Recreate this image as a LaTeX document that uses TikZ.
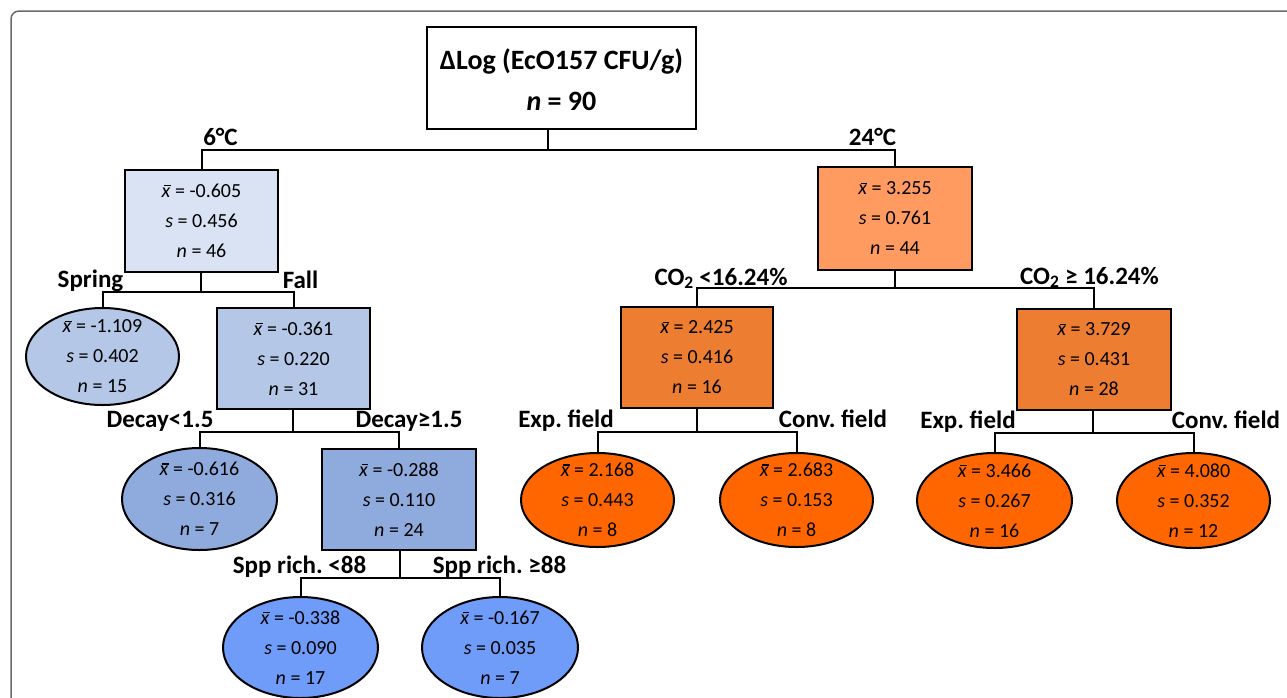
\documentclass[tikz,border=0pt]{standalone}
\usepackage{fontspec}
\setmainfont{Carlito}
\usetikzlibrary{shapes.geometric}
\frenchspacing
\definecolor{cA}{HTML}{DAE3F3}
\definecolor{cB}{HTML}{B4C7E7}
\definecolor{cC}{HTML}{8FAADC}
\definecolor{cD}{HTML}{6E9CF8}
\definecolor{cE}{HTML}{FF9A60}
\definecolor{cF}{HTML}{ED7D31}
\definecolor{cG}{HTML}{FF6600}
\definecolor{frame}{HTML}{6A6A6A}
\newcommand{\xbarit}{\textit{x}\llap{\raisebox{0.56em}{\rule{0.32em}{0.055em}}\hspace{0.0em}}}
\newcommand{\stats}[3]{\xbarit{} = #1\\\textit{s} = #2\\\textit{n} = #3}
\tikzset{
  box/.style={draw=black, line width=2pt, rectangle, inner sep=0pt},
  oval/.style={draw=black, line width=2pt, ellipse, inner sep=0pt},
  stat/.style={align=center, inner sep=0pt, font=\fontsize{20}{30}\selectfont},
  lbl/.style={anchor=base, inner sep=0pt, font=\fontsize{25}{30}\selectfont\bfseries},
  conn/.style={draw=black, line width=2pt},
}
\begin{document}
\begin{tikzpicture}[x=1pt,y=-1pt]
\useasboundingbox (0,0) rectangle (1287,697);
\clip (0,0) rectangle (1287,697);
\draw[frame, line width=1.5pt, rounded corners=8pt] (11,11) rectangle (1310,720);

% root
\node[box, minimum width=269pt, minimum height=102pt] (root) at (561.5,78) {};
\node[align=center, inner sep=0pt, font=\fontsize{28}{41}\selectfont\bfseries] (roott) at (561.5,80) {ΔLog (EcO157 CFU/g)\\\textit{n} = 90};

% left branch
\node[box, fill=cA, minimum width=153pt, minimum height=102pt] (A) at (201.5,221) {};
\node[stat] (At) at (A) {\stats{-0.605}{0.456}{46}};
\node[oval, fill=cB, minimum width=153pt, minimum height=97pt] (B) at (102.5,356.5) {};
\node[stat] (Bt) at (B) {\stats{-1.109}{0.402}{15}};
\node[box, fill=cB, minimum width=153pt, minimum height=101pt] (C) at (293.5,358.5) {};
\node[stat] (Ct) at (C) {\stats{-0.361}{0.220}{31}};
\node[oval, fill=cC, minimum width=155pt, minimum height=102pt] (D) at (199.5,499) {};
\node[stat] (Dt) at (D) {\stats{-0.616}{0.316}{7}};
\node[box, fill=cC, minimum width=154pt, minimum height=101pt] (E) at (399,499.5) {};
\node[stat] (Et) at (E) {\stats{-0.288}{0.110}{24}};
\node[oval, fill=cD, minimum width=155pt, minimum height=101pt] (F) at (300.5,647.5) {};
\node[stat] (Ft) at (F) {\stats{-0.338}{0.090}{17}};
\node[oval, fill=cD, minimum width=156pt, minimum height=101pt] (G) at (500,647.5) {};
\node[stat] (Gt) at (G) {\stats{-0.167}{0.035}{7}};

% right branch
\node[box, fill=cE, minimum width=154pt, minimum height=103pt] (H) at (895,218.5) {};
\node[stat] (Ht) at (H) {\stats{3.255}{0.761}{44}};
\node[box, fill=cF, minimum width=152pt, minimum height=101pt] (I) at (697,357.5) {};
\node[stat] (It) at (I) {\stats{2.425}{0.416}{16}};
\node[box, fill=cF, minimum width=154pt, minimum height=101pt] (L) at (1094,359.5) {};
\node[stat] (Lt) at (L) {\stats{3.729}{0.431}{28}};
\node[oval, fill=cG, minimum width=153pt, minimum height=94pt] (J) at (597.5,500) {};
\node[stat] (Jt) at (J) {\stats{2.168}{0.443}{8}};
\node[oval, fill=cG, minimum width=153pt, minimum height=94pt] (K) at (796.5,500) {};
\node[stat] (Kt) at (K) {\stats{2.683}{0.153}{8}};
\node[oval, fill=cG, minimum width=155pt, minimum height=95pt] (M) at (994.5,500.5) {};
\node[stat] (Mt) at (M) {\stats{3.466}{0.267}{16}};
\node[oval, fill=cG, minimum width=153pt, minimum height=95pt] (N) at (1193.5,500.5) {};
\node[stat] (Nt) at (N) {\stats{4.080}{0.352}{12}};

% junctions
\coordinate (j0) at (548,150);
\coordinate (j1) at (201,292);
\coordinate (j2) at (293,432);
\coordinate (j3) at (400,578);
\coordinate (j4) at (895,288);
\coordinate (j5) at (697,432);
\coordinate (j6) at (1093,433);

\draw[conn] (root.south -| j0) -- (j0);
\draw[conn] (A.north) |- (j0) -| (H.north);
\draw[conn] (A.south -| j1) -- (j1);
\draw[conn] (B.north) |- (j1) -| (C.north);
\draw[conn] (C.south -| j2) -- (j2);
\draw[conn] (D.north) |- (j2) -| (E.north);
\draw[conn] (E.south -| j3) -- (j3);
\draw[conn] (F.north) |- (j3) -| (G.north);
\draw[conn] (H.south -| j4) -- (j4);
\draw[conn] (I.north) |- (j4) -| (L.north);
\draw[conn] (I.south -| j5) -- (j5);
\draw[conn] (J.north) |- (j5) -| (K.north);
\draw[conn] (L.south -| j6) -- (j6);
\draw[conn] (M.north) |- (j6) -| (N.north);

% labels
\node[lbl] (l1) at (220.5,145) {6°C};
\node[lbl] (l2) at (872.5,145) {24°C};
\node[lbl] (l3) at (90.5,287) {Spring};
\node[lbl] (l4) at (300.5,288) {Fall};
\node[lbl] (l5) at (160,427) {Decay<1.5};
\node[lbl] (l6) at (409,427) {Decay≥1.5};
\node[lbl] (l7) at (299.5,573) {Spp rich. <88};
\node[lbl] (l8) at (499.5,573) {Spp rich. ≥88};
\node[lbl] (l9) at (721,285) {CO\textsubscript{2} <16.24\%};
\node[lbl] (l10) at (1089.5,284) {CO\textsubscript{2} ≥ 16.24\%};
\node[lbl] (l11) at (566,427) {Exp. field};
\node[lbl] (l12) at (833,427) {Conv. field};
\node[lbl] (l13) at (968,428) {Exp. field};
\node[lbl] (l14) at (1226,428) {Conv. field};
\end{tikzpicture}
\end{document}
